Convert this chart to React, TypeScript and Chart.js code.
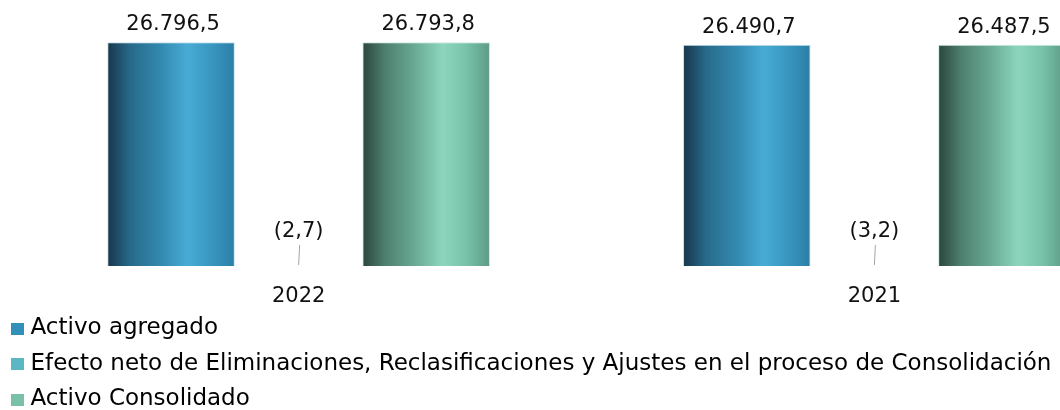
import React, { useEffect, useRef } from "react";
import { Chart, registerables } from "chart.js";

Chart.register(...registerables);

const categories = ["2022", "2021"];
const seriesNames = [
  "Activo agregado",
  "Efecto neto de Eliminaciones, Reclasificaciones y Ajustes en el proceso de Consolidación",
  "Activo Consolidado",
];
const activoAgregado = [26796.5, 26490.7];
const efectoNeto = [-2.7, -3.2];
const activoConsolidado = [26793.8, 26487.5];

const legendColors = ["#3190b9", "#5bb8c3", "#78c0a6"];
const blueStops: [number, string][] = [
  [0, "#17364a"],
  [0.18, "#276a8a"],
  [0.42, "#3389b0"],
  [0.63, "#47acd5"],
  [0.82, "#3896bf"],
  [1, "#2b7ea6"],
];
const greenStops: [number, string][] = [
  [0, "#2b463c"],
  [0.18, "#4e7f6f"],
  [0.42, "#6aac96"],
  [0.63, "#8dd6bd"],
  [0.82, "#77c2a8"],
  [1, "#5d9a86"],
];
const midStops: [number, string][] = [
  [0, "#dcecef"],
  [1, "#eef6f7"],
];

const CAT_PCT = 0.6647;
const BAR_PCT = 1;
const FONT = "'DejaVu Sans', sans-serif";

function fmt(v: number): string {
  const abs = Math.abs(v);
  const [i, d] = abs.toFixed(1).split(".");
  const int = i.replace(/\B(?=(\d{3})+(?!\d))/g, ".");
  const s = int + "," + d;
  return v < 0 ? "(" + s + ")" : s;
}

function gradientFor(stops: [number, string][], fallback: string) {
  return (ctx: any) => {
    const chart = ctx.chart;
    const xs = chart.scales?.x;
    if (!xs || !chart.chartArea || ctx.dataIndex === undefined) return fallback;
    const n = chart.data.labels.length;
    const nd = chart.data.datasets.length;
    const pixel = xs.getPixelForValue(ctx.dataIndex);
    const catW = xs.width / n;
    const size = catW * CAT_PCT;
    const chunk = size / nd;
    const left = pixel - size / 2 + chunk * ctx.datasetIndex + (chunk * (1 - BAR_PCT)) / 2;
    const right = left + chunk * BAR_PCT;
    if (!isFinite(left) || !isFinite(right)) return fallback;
    const g = chart.ctx.createLinearGradient(left, 0, right, 0);
    stops.forEach(([o, c]) => g.addColorStop(o, c));
    return g;
  };
}

function swatch(color: string) {
  const c = document.createElement("canvas");
  c.width = 13;
  c.height = 12;
  const x = c.getContext("2d")!;
  x.fillStyle = color;
  x.fillRect(0, 0, 13, 12);
  return c;
}

const valueLabels = {
  id: "valueLabels",
  afterDatasetsDraw(chart: any) {
    const c = chart.ctx;
    const ys = chart.scales.y;
    const zeroY = ys.getPixelForValue(0);
    c.save();
    c.fillStyle = "#111111";
    c.textAlign = "center";
    c.textBaseline = "alphabetic";
    c.font = `21px ${FONT}`;
    chart.data.datasets.forEach((ds: any, di: number) => {
      const meta = chart.getDatasetMeta(di);
      meta.data.forEach((el: any, i: number) => {
        const v = ds.data[i];
        if (v >= 0) {
          c.fillText(fmt(v), el.x + 2, el.y - 12.3);
        } else {
          c.fillText(fmt(v), el.x, zeroY - 29);
          c.strokeStyle = "#a6a6a6";
          c.lineWidth = 1;
          c.beginPath();
          c.moveTo(el.x + 1, zeroY - 21);
          c.lineTo(el.x, zeroY - 1);
          c.stroke();
        }
      });
    });
    c.restore();
  },
};

export default function App() {
  const ref = useRef<HTMLCanvasElement>(null);
  useEffect(() => {
    document.body.style.margin = "0";
    const canvas = ref.current!;
    const swatches = legendColors.map(swatch);
    const chart = new Chart(canvas, {
      type: "bar",
      data: {
        labels: categories,
        datasets: [
          {
            label: seriesNames[0],
            data: activoAgregado,
            backgroundColor: gradientFor(blueStops, legendColors[0]),
            borderColor: "rgba(190,222,234,0.9)",
            borderWidth: 1,
          },
          {
            label: seriesNames[1],
            data: efectoNeto,
            backgroundColor: gradientFor(midStops, legendColors[1]),
            borderWidth: 0,
          },
          {
            label: seriesNames[2],
            data: activoConsolidado,
            backgroundColor: gradientFor(greenStops, legendColors[2]),
            borderColor: "rgba(200,230,220,0.9)",
            borderWidth: 1,
          },
        ],
      },
      plugins: [valueLabels],
      options: {
        animation: false,
        responsive: false,
        maintainAspectRatio: false,
        devicePixelRatio: 1,
        categoryPercentage: CAT_PCT,
        barPercentage: BAR_PCT,
        layout: { padding: { top: 15.55, right: 2.75, left: 6.5, bottom: 0 } },
        plugins: {
          tooltip: { enabled: false },
          legend: {
            position: "bottom",
            align: "start",
            labels: {
              usePointStyle: true,
              boxWidth: 3,
              boxHeight: 12,
              padding: 12.5,
              color: "#111111",
              font: { family: FONT, size: 23 },
              generateLabels: () =>
                seriesNames.map((t, i) => ({
                  text: t,
                  fillStyle: legendColors[i],
                  strokeStyle: legendColors[i],
                  lineWidth: 0,
                  pointStyle: swatches[i],
                  hidden: false,
                  datasetIndex: i,
                })),
            },
          },
        },
        scales: {
          x: {
            offset: true,
            grid: { display: false, drawTicks: false },
            border: { display: false },
            ticks: {
              color: "#111111",
              font: { family: FONT, size: 21 },
              padding: 17.5,
            },
            afterFit: (s: any) => {
              s.height = 38.5;
            },
          },
          y: {
            min: 0,
            max: 30000,
            grid: { display: false, drawTicks: false },
            border: { display: false },
            ticks: { display: false },
            afterFit: (s: any) => {
              s.width = 7.25;
            },
          },
        },
      },
    });
    return () => chart.destroy();
  }, []);
  return (
    <div
      style={{
        position: "fixed",
        left: 0,
        top: 0,
        width: 1060,
        height: 410,
        overflow: "hidden",
        background: "#ffffff",
      }}
    >
      <canvas
        ref={ref}
        width={1168}
        height={421}
        style={{ position: "absolute", left: -3, top: 0, width: 1168, height: 421 }}
      />
    </div>
  );
}
